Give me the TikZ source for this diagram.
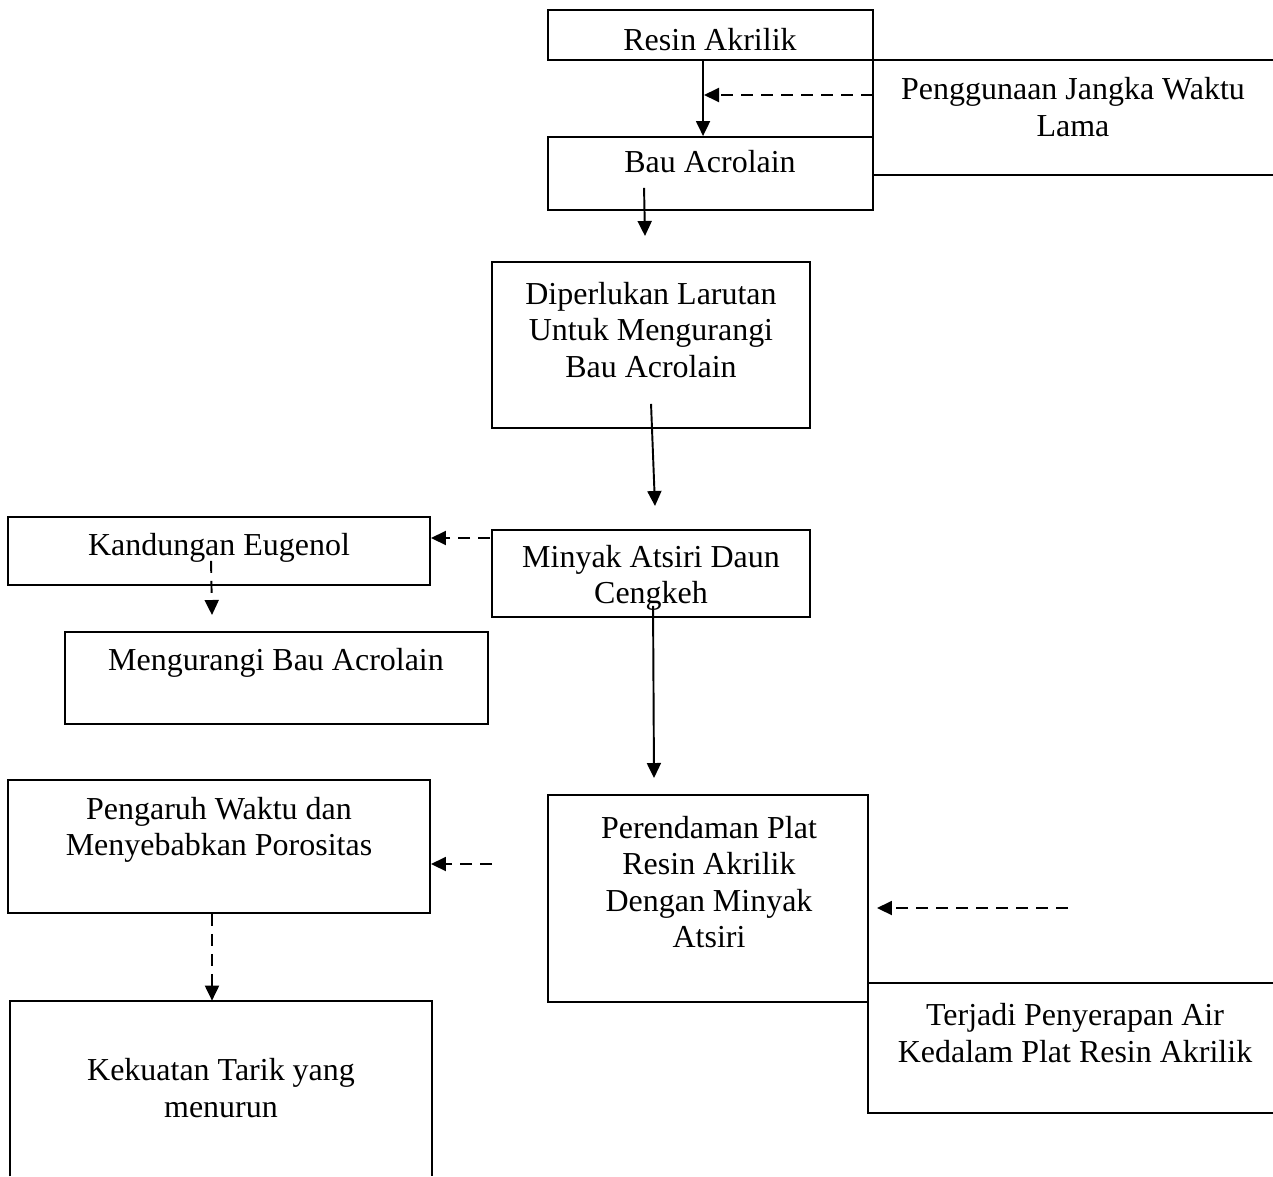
\documentclass[tikz,border=0pt]{standalone}
\usepackage{fontspec}
\setmainfont{Liberation Serif}
\usepackage{tikz}
\usetikzlibrary{arrows.meta, positioning, calc, fit}

\begin{document}
\begin{tikzpicture}[x=0.02cm, y=-0.02cm, >={Triangle[width=0.28cm, length=0.3cm]},
    font={\fontsize{18.2}{20.8}\selectfont},
    box/.style={draw, line width=1.1pt, inner sep=0pt},
    frame/.style={inner sep=0pt},
    txt/.style={align=center, inner sep=0pt},
    arr/.style={->, line width=1.1pt},
    darr/.style={->, line width=1.1pt, dash pattern=on 0.24cm off 0.16cm}]
    \useasboundingbox (0, 0) rectangle (1273, 1176);

    % Top column
    \node[box, fit={(548, 10) (873, 60)}] (resin) {};
    \node[frame, fit={(873, 60) (1273, 175)}] (guna) {};
    \draw[line width=1.1pt] (guna.north east) -- (guna.north west) -- (guna.south west) -- (guna.south east);
    \node[box, fit={(548, 137) (873, 210)}] (bau) {};
    \node[box, fit={(492, 262) (810, 428)}] (perlu) {};
    \node[box, fit={(492, 530) (810, 617)}] (minyak) {};

    \node[txt] (resin-t) at (710, 40) {Resin Akrilik};
    \node[txt] (guna-t) at (1073, 107) {Penggunaan Jangka Waktu\\Lama};
    \node[txt] (bau-t) at (710, 162) {Bau Acrolain};
    \node[txt] (perlu-t) at (651, 330) {Diperlukan Larutan\\Untuk Mengurangi\\Bau Acrolain};
    \node[txt] (minyak-t) at (651, 578) {Minyak Atsiri Daun\\Cengkeh};

    % Left column
    \node[box, fit={(8, 517) (430, 585)}] (eugenol) {};
    \node[box, fit={(65, 632) (488, 724)}] (kurang) {};
    \node[box, fit={(8, 780) (430, 913)}] (pengaruh) {};
    \node[frame, fit={(10, 1001) (432, 1176)}] (tarik) {};
    \draw[line width=1.1pt] (tarik.south west) -- (tarik.north west) -- (tarik.north east) -- (tarik.south east);

    \node[txt] (eugenol-t) at (219, 548) {Kandungan Eugenol};
    \node[txt] (kurang-t) at (276, 663) {Mengurangi Bau Acrolain};
    \node[txt] (pengaruh-t) at (219, 830) {Pengaruh Waktu dan\\Menyebabkan Porositas};
    \node[txt] (tarik-t) at (221, 1088) {Kekuatan Tarik yang\\menurun};

    % Bottom right
    \node[box, fit={(548, 795) (868, 1002)}] (rendam) {};
    \node[frame, fit={(868, 983) (1273, 1113)}] (serap) {};
    \draw[line width=1.1pt] (serap.north east) -- (serap.north west) -- (serap.south west) -- (serap.south east);

    \node[txt] (rendam-t) at (709, 882) {Perendaman Plat\\Resin Akrilik\\Dengan Minyak\\Atsiri};
    \node[txt] (serap-t) at (1075, 1033) {Terjadi Penyerapan Air\\Kedalam Plat Resin Akrilik};

    % Free ends
    \coordinate (e1) at (704, 95);
    \coordinate (e2) at (645, 236);
    \coordinate (e3) at (655, 506);
    \coordinate (e4) at (212, 615);
    \coordinate (e5) at (654, 778);
    \coordinate (s1) at (490, 538);
    \coordinate (s2) at (492, 864);
    \coordinate (s3) at (1068, 908);

    % Arrows
    \draw[arr] ($(resin.south west)+(156, 0)$) -- ($(bau.north west)+(156, 0)$);
    \draw[darr] (guna.west |- e1) -- (e1);
    \draw[arr] ($(bau.south west)+(97, -23)$) -- (e2);
    \draw[arr] ($(perlu.south west)+(160, -25)$) -- (e3);
    \draw[darr] (s1) -- (s1 -| eugenol.east);
    \draw[darr] ($(eugenol.south west)+(204, -25)$) -- (e4);
    \draw[arr] ($(minyak.south west)+(162, -12)$) -- (e5);
    \draw[darr] (s2) -- (s2 -| pengaruh.east);
    \draw[darr] (pengaruh.south -| e4) -- (tarik.north -| e4);
    \draw[darr] (s3) -- ($(s3 -| rendam.east)+(8, 0)$);
\end{tikzpicture}
\end{document}
